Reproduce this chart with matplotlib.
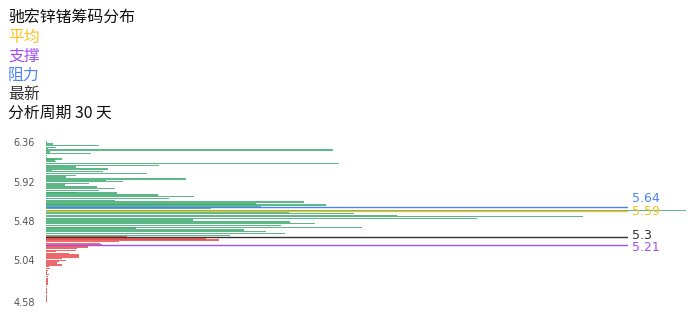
import numpy as np
import matplotlib
matplotlib.use('Agg')
import matplotlib.pyplot as plt

plt.rcParams['font.family'] = ['Noto Sans CJK SC', 'DejaVu Sans']

# 价格档位 (从高到低) 和每档筹码量
price_top = 6.36
price_bottom = 4.58
prices = np.round(np.linspace(price_top, price_bottom, 97), 2)
chips = [1, 7, 53, 10, 2, 287, 4, 45, 1, 1,
         16, 9, 10, 293, 113, 30, 62, 6, 57, 101,
         30, 20, 140, 60, 77, 43, 19, 51, 69, 53,
         30, 71, 112, 148, 123, 69, 258, 210, 280, 215,
         165, 640, 243, 308, 351, 537, 431, 147, 244, 269,
         235, 316, 90, 198, 220, 239, 184, 81, 160, 173,
         73, 54, 56, 42, 31, 30, 10, 23, 33, 33,
         16, 20, 13, 11, 16, 3, 4, 2, 1, 1,
         3, 2, 1.5, 1.5, 2, 2, 1.5, 1, 1, 0.8,
         0.8, 0.6, 0.6, 0.5, 0.5, 0.5, 0.5]
ytick_vals = [6.36, 5.92, 5.48, 5.04, 4.58]

avg_price = 5.59
support = 5.21
resist = 5.64
latest = 5.3
days = 30
name = '驰宏锌锗'

c_avg = '#f7c21b'
c_sup = '#a24ff2'
c_res = '#4d84f5'
c_last = '#333333'

fig = plt.figure(figsize=(6.96, 3.2), dpi=100)
fig.patch.set_facecolor('white')

ax = fig.add_axes([46 / 696, 14 / 320, 582 / 696, 168 / 320])

step = abs(prices[1] - prices[0])
colors = ['#3aa86b' if p > latest else '#e94848' for p in prices]
ax.barh(prices, chips, height=step * 0.78, color=colors, alpha=0.82,
        clip_on=False, linewidth=0)

ax.set_xlim(0, 582)
ax.set_ylim(4.532, 6.405)
ax.set_yticks(ytick_vals)
ax.set_yticklabels(['%.2f' % v for v in ytick_vals], fontsize=7,
                   color='#555555', family='DejaVu Sans')
ax.tick_params(axis='y', length=0, pad=8)
ax.set_xticks([])
for s in ax.spines.values():
    s.set_visible(False)

# 标记线
lines = [(resist, c_res, 6), (avg_price, c_avg, 0),
         (latest, c_last, 1), (support, c_sup, -2)]
for val, c, dy in lines:
    ax.axhline(val, color=c, linewidth=1.0, xmin=0, xmax=1)
    ax.annotate('%g' % val, xy=(1, val), xycoords=('axes fraction', 'data'),
                xytext=(3, dy), textcoords='offset points',
                ha='left', va='center', fontsize=9, color=c,
                family='DejaVu Sans')

# 左上角文字
texts = [(name + '筹码分布', '#111111'), ('平均', c_avg), ('支撑', c_sup),
         ('阻力', c_res), ('最新', c_last),
         ('分析周期 %d 天' % days, '#111111')]
for i, (t, c) in enumerate(texts):
    fig.text(8 / 696, 1 - (18 + 19 * i) / 320, t, fontsize=11.4, color=c,
             ha='left', va='center')

fig.savefig('out.png', dpi=100, facecolor='white')
